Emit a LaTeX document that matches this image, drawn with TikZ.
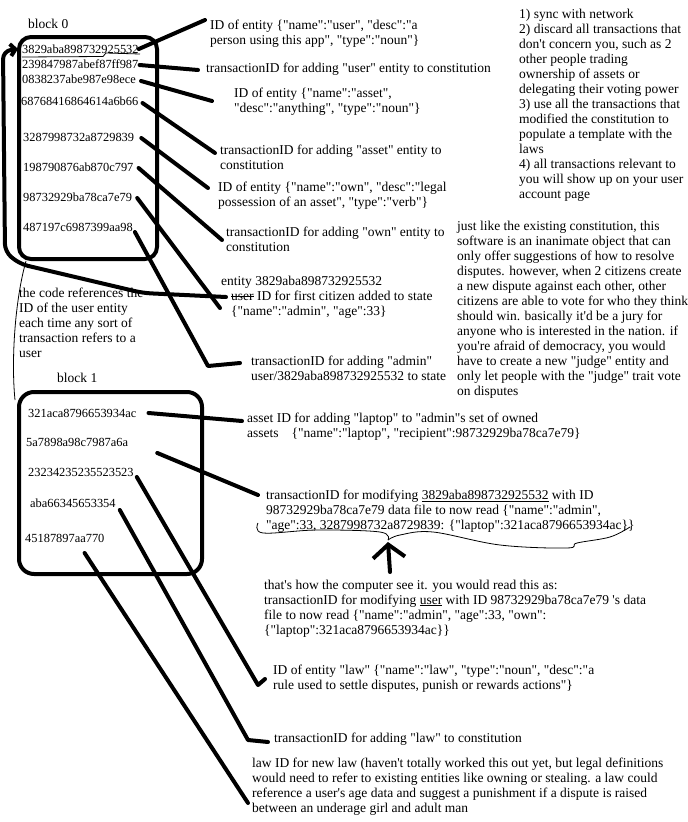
\documentclass[tikz,border=0pt]{standalone}
\usetikzlibrary{arrows.meta}
\font\notefont="Liberation Serif" at 13.5pt
\font\hashfont="Liberation Serif" at 12.4pt
\newcommand{\strikeword}[1]{\setbox0\hbox{#1}\rlap{\rule[3.8pt]{\wd0}{0.6pt}}\box0\relax}
\newcommand{\underword}[1]{\setbox0\hbox{#1}\rlap{\rule[-2pt]{\wd0}{0.6pt}}\box0\relax}
\tikzset{
  note/.style={anchor=north west, inner sep=0pt, align=left, font={\notefont\baselineskip=15pt}},
  hash/.style={anchor=west, inner sep=0pt, font=\hashfont},
  blockbox/.style={draw, line width=4pt, rounded corners=12pt, anchor=north west, inner sep=0pt},
  wire/.style={line width=4pt, line cap=round, line join=round},
  scribble/.style={line width=0.8pt},
}
\begin{document}
\begin{tikzpicture}[x=1pt, y=-1pt]
\useasboundingbox (0,0) rectangle (688,822);

% blocks
\node[blockbox, minimum width=138pt, minimum height=222pt] (blk0) at (17,35) {};
\node[blockbox, minimum width=183pt, minimum height=182pt, rounded corners=15pt] (blk1) at (17,390) {};
\node[note] (lbl0) at (28,18.5) {block 0};
\node[note] (lbl1) at (57,372.5) {block 1};

% hashes in block 0
\node[hash] (b0a) at (22,49) {3829aba898732925532};
\node[hash] (b0b) at (22,64) {239847987abef87ff987};
\node[hash] (b0c) at (22,79) {0838237abe987e98ece};
\node[hash] (b0d) at (21,101) {68768416864614a6b66};
\node[hash] (b0e) at (23,137) {3287998732a8729839};
\node[hash] (b0f) at (23,167) {198790876ab870c797};
\node[hash] (b0g) at (23,197) {98732929ba78ca7e79};
\node[hash] (b0h) at (23,227) {487197c6987399aa98};

% hashes in block 1
\node[hash] (c0) at (28,413) {321aca8796653934ac};
\node[hash] (c1) at (26,442) {5a7898a98c7987a6a};
\node[hash] (c2) at (28,472) {23234235235523523};
\node[hash] (c3) at (30,503) {aba66345653354};
\node[hash] (c4) at (25,538) {45187897aa770};

% notes for block 0
\node[note] (d0) at (210,19.5) {ID of entity \{"name":"user", "desc":"a\\person using this app", "type":"noun"\}};
\node[note] (d1) at (206,62.5) {transactionID for adding "user" entity to constitution};
\node[note] (d2) at (234,87.5) {ID of entity \{"name":"asset",\\"desc":"anything", "type":"noun"\}};
\node[note] (d3) at (220,144.5) {transactionID for adding "asset" entity to\\constitution};
\node[note] (d4) at (218,181.5) {ID of entity \{"name":"own", "desc":"legal\\possession of an asset", "type":"verb"\}};
\node[note] (d5) at (226,226.5) {transactionID for adding "own" entity to\\constitution};
\node[note] (d6) at (231,275.5) {\hspace*{-10pt}entity 3829aba898732925532\\\strikeword{user} ID for first citizen added to state\\\{"name":"admin", "age":33\}};
\node[note] (d7) at (251,355.5) {transactionID for adding "admin"\\user/3829aba898732925532 to state};
\node[note] (refs) at (19,287.5) {the code references the\\ID of the user entity\\each time any sort of\\transaction refers to a\\user};

% side notes
\node[note] (steps) at (519,8.5) {1) sync with network\\2) discard all transactions that\\don't concern you, such as 2\\other people trading\\ownership of assets or\\delegating their voting power\\3) use all the transactions that\\modified the constitution to\\populate a template with the\\laws\\4) all transactions relevant to\\you will show up on your user\\account page};
\node[note] (jury) at (457,220.5) {just like the existing constitution, this\\software is an inanimate object that can\\only offer suggestions of how to resolve\\disputes. however, when 2 citizens create\\a new dispute against each other, other\\citizens are able to vote for who they think\\should win. basically it'd be a jury for\\anyone who is interested in the nation. if\\you're afraid of democracy, you would\\have to create a new "judge" entity and\\only let people with the "judge" trait vote\\on disputes};

% notes for block 1
\node[note] (e0) at (247,412.5) {asset ID for adding "laptop" to "admin"s set of owned\\assets\hspace{13pt}\{"name":"laptop", "recipient":98732929ba78ca7e79\}};
\node[note] (e1) at (266,489.5) {transactionID for modifying \underword{3829aba898732925532} with ID\\98732929ba78ca7e79 data file to now read \{"name":"admin",\\"age":33, 3287998732a8729839: \{"laptop":321aca8796653934ac\}\}};
\node[note] (e2) at (264,579.5) {that's how the computer see it. you would read this as:\\transactionID for modifying \underword{user} with ID 98732929ba78ca7e79 's data\\file to now read \{"name":"admin", "age":33, "own":\\\{"laptop":321aca8796653934ac\}\}};
\node[note] (e3) at (273,664.5) {ID of entity "law" \{"name":"law", "type":"noun", "desc":"a\\rule used to settle disputes, punish or rewards actions"\}};
\node[note] (e4) at (274,732.5) {transactionID for adding "law" to constitution};
\node[note] (e5) at (252,757.5) {law ID for new law (haven't totally worked this out yet, but legal definitions\\would need to refer to existing entities like owning or stealing. a law could\\reference a user's age data and suggest a punishment if a dispute is raised\\between an underage girl and adult man};

% connectors of block 0
\draw[wire] (b0a.east) -- ([shift={(-5,0.5)}]d0.north west);
\draw[wire] ([shift={(1,1)}]b0b.east) -- ([shift={(-8,7.5)}]d1.north west);
\draw[wire] ([shift={(5,2)}]b0c.east) -- ([shift={(-22,13.5)}]d2.north west);
\draw[wire] ([shift={(4,2)}]b0d.east) -- ([shift={(-5,8.5)}]d3.north west);
\draw[wire] ([shift={(7,1)}]b0e.east) -- ([shift={(-10,6.5)}]d4.north west);
\draw[wire] ([shift={(5,1)}]b0f.east) -- ([shift={(-4,13.5)}]d5.north west);
\draw[wire] ([shift={(5,1)}]b0g.east) -- ([shift={(-11,32.5)}]d6.north west);
\draw[wire] ([shift={(2,5)}]b0h.east) -- ([shift={(-43,10.5)}]d7.north west) -- ([shift={(-11,7.5)}]d7.north west);
\draw[wire, rounded corners=8pt, -{Straight Barb[length=5pt, width=12pt]}]
  ([shift={(-5,21.5)}]d6.north west) -- ++(-83,-4) -- ++(-123,-29) -- (5,252) -- (3,51) -- ([xshift=-4pt]b0a.west);

% connectors of block 1
\draw[wire] ([shift={(12,0)}]c0.east) -- ([shift={(-5,8.5)}]e0.north west);
\draw[wire] ([shift={(29,11)}]c1.east) -- ([shift={(-8,5.5)}]e1.north west);
\draw[wire] ([shift={(3,5)}]c2.east) -- ([shift={(-15,20.5)}]e3.north west) -- ([shift={(-8,14.5)}]e3.north west);
\draw[wire] ([shift={(4,7)}]c3.east) -- ([shift={(-26,7.5)}]e4.north west) -- ([shift={(-6,9.5)}]e4.north west);
\draw[wire] ([shift={(-20,15)}]c4.east) -- ([shift={(-4,45.5)}]e5.north west);

% scribbles
\draw[scribble] (22,57) -- (103,56.5) -- (106,53) -- (140,54);
\draw[scribble] ([xshift=9pt]blk0.south west) .. controls (15,300) and (11,360) .. ([shift={(-2,10)}]blk1.north west);
\coordinate (tip) at (388,540);
\draw[scribble] plot[smooth, tension=0.6] coordinates {(258,523) (263,533) (317,530) (380,532) (tip)};
\draw[scribble] plot[smooth, tension=0.6] coordinates {(tip) (400,535) (433,532) (500,545) (567,548) (577,543) (610,537) (630,527)};
\draw[wire, -{Straight Barb[length=13pt, width=32pt]}] ([shift={(126,-7.5)}]e2.north west) -- ([yshift=-2pt]tip);
\end{tikzpicture}
\end{document}
